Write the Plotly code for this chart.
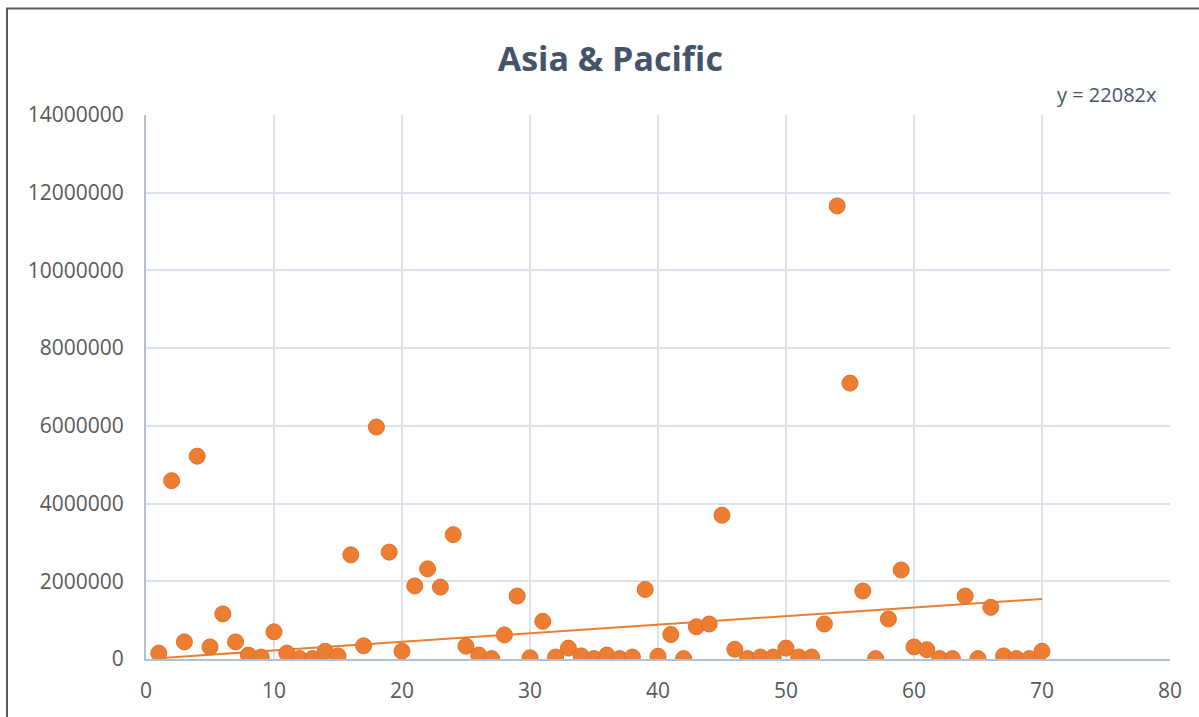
import plotly.graph_objects as go

# Observation index and value for each point in the Asia & Pacific series
idx = list(range(1, 71))
values = [
    150000, 4590000, 440000, 5220000, 310000, 1160000, 440000, 100000, 50000, 700000,
    150000, 10000, 10000, 200000, 80000, 2680000, 340000, 5970000, 2750000, 200000,
    1880000, 2320000, 1850000, 3200000, 330000, 100000, 10000, 620000, 1620000, 30000,
    970000, 50000, 280000, 80000, 10000, 100000, 10000, 50000, 1790000, 70000,
    630000, 10000, 830000, 900000, 3700000, 250000, 10000, 50000, 50000, 280000,
    50000, 50000, 900000, 11660000, 7100000, 1750000, 10000, 1030000, 2290000, 310000,
    240000, 10000, 10000, 1620000, 10000, 1330000, 80000, 10000, 10000, 200000,
]

# Linear trend through the origin
slope = 22082
trend_x = [idx[0], idx[-1]]
trend_y = [slope * v for v in trend_x]

orange = "#ED7D31"
text_col = "#595959"
title_col = "#44546A"
grid_col = "#DCE2EA"
axis_col = "#B4C0CF"
font_family = "Open Sans, Lato, DejaVu Sans, sans-serif"

fig = go.Figure()
fig.add_trace(go.Scatter(
    x=trend_x, y=trend_y, mode="lines",
    line=dict(color=orange, width=2),
    hoverinfo="skip", showlegend=False,
))
fig.add_trace(go.Scatter(
    x=idx, y=values, mode="markers",
    marker=dict(size=16, color=orange, line=dict(color="#E0712A", width=1)),
    showlegend=False,
))

fig.update_layout(
    width=1199, height=717,
    margin=dict(l=146, r=29, t=115, b=58),
    paper_bgcolor="white", plot_bgcolor="white",
    font=dict(family=font_family, size=21, color=text_col),
    title=dict(
        text="<b>Asia &amp; Pacific</b>",
        x=0.509, xanchor="center", y=0.917, yanchor="middle",
        font=dict(size=34, color=title_col, family=font_family),
    ),
    xaxis=dict(
        range=[0, 80], dtick=10, tick0=0,
        showgrid=True, gridcolor=grid_col, gridwidth=2,
        showline=True, linecolor=axis_col, linewidth=2,
        zeroline=False, ticks="", ticklabelstandoff=12,
        tickfont=dict(size=21, color=text_col),
    ),
    yaxis=dict(
        range=[0, 14000000], dtick=2000000, tick0=0,
        tickformat="d",
        showgrid=True, gridcolor=grid_col, gridwidth=2,
        showline=True, linecolor=axis_col, linewidth=2,
        zeroline=False, ticks="", ticklabelstandoff=16,
        tickfont=dict(size=21, color=text_col),
    ),
    annotations=[dict(
        text="y = 22082x", xref="paper", yref="paper",
        x=(1159 - 146) / 1024, y=(659 - 95) / 544,
        xanchor="right", yanchor="middle", showarrow=False,
        font=dict(size=20, color=title_col, family=font_family),
    )],
    shapes=[dict(
        type="rect", xref="paper", yref="paper",
        x0=(7 - 146) / 1024, x1=(1210 - 146) / 1024,
        y0=(659 - 730) / 544, y1=(659 - 8.5) / 544,
        line=dict(color="#5A5A5A", width=2), layer="below",
    )],
)

fig.write_html("out.html")
